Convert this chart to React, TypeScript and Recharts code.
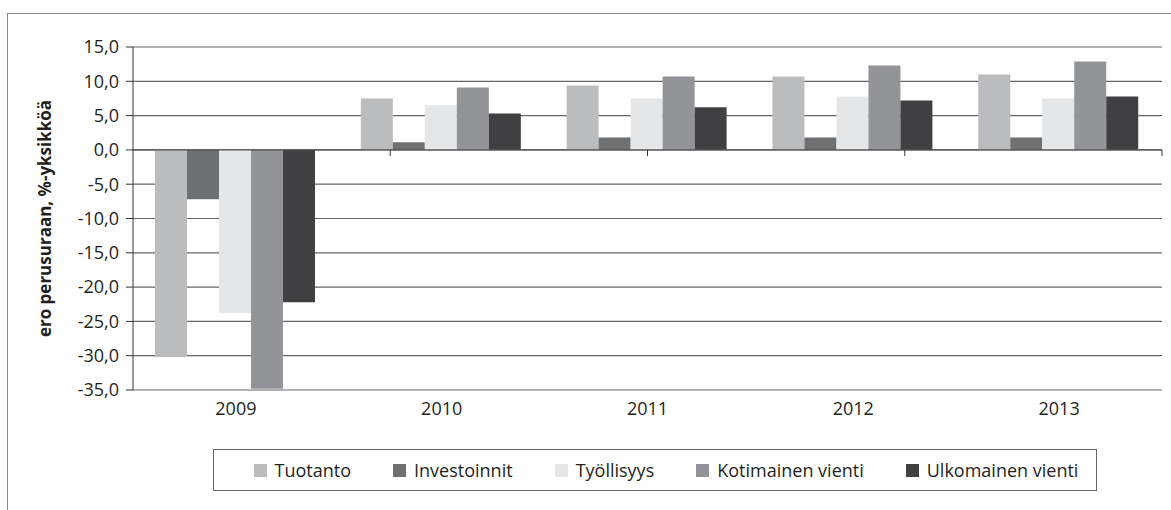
import React from "react";
import {
  Bar,
  BarChart,
  CartesianGrid,
  Legend,
  ReferenceArea,
  ReferenceLine,
  XAxis,
  YAxis,
} from "recharts";

const vuodet = ["2009", "2010", "2011", "2012", "2013"];
const tuotanto = [-30.2, 7.5, 9.4, 10.7, 11.0];
const investoinnit = [-7.2, 1.1, 1.8, 1.8, 1.8];
const tyollisyys = [-23.8, 6.5, 7.5, 7.8, 7.5];
const kotimainenVienti = [-34.8, 9.1, 10.7, 12.3, 12.9];
const ulkomainenVienti = [-22.2, 5.3, 6.2, 7.2, 7.8];
const yTicks = [-35, -30, -25, -20, -15, -10, -5, 0, 5, 10, 15];
const rajat = [1, 2, 3, 4];

const SARJAT = [
  { key: "tuotanto", nimi: "Tuotanto", cor: "#BBBCBE", arvot: tuotanto },
  { key: "investoinnit", nimi: "Investoinnit", cor: "#6E6F71", arvot: investoinnit },
  { key: "tyollisyys", nimi: "Työllisyys", cor: "#E5E6E8", arvot: tyollisyys },
  { key: "kotimainen", nimi: "Kotimainen vienti", cor: "#939497", arvot: kotimainenVienti },
  { key: "ulkomainen", nimi: "Ulkomainen vienti", cor: "#404042", arvot: ulkomainenVienti },
];

const data = vuodet.map((v, i) => {
  const row: Record<string, string | number> = { vuosi: v };
  SARJAT.forEach((s) => (row[s.key] = s.arvot[i]));
  return row;
});

const FONT = "'Open Sans', sans-serif";
const TEXT = "#231F20";
const fmt = (v: number) => v.toFixed(1).replace(".", ",");

// selite samassa järjestyksessä kuin sarjat (Recharts lajittelee muuten)
function Selite() {
  return (
    <div
      style={{
        display: "flex",
        justifyContent: "center",
        alignItems: "center",
        height: "100%",
        gap: 42,
        paddingLeft: 22,
        boxSizing: "border-box",
        fontFamily: FONT,
        fontSize: 18,
        color: TEXT,
      }}
    >
      {SARJAT.map((s) => (
        <span key={s.key} style={{ display: "flex", alignItems: "center" }}>
          <span
            style={{
              width: 13,
              height: 13,
              background: s.cor,
              marginRight: 8,
              display: "inline-block",
            }}
          />
          {s.nimi}
        </span>
      ))}
    </div>
  );
}

export default function App() {
  return (
    <div
      style={{
        position: "absolute",
        left: 0,
        top: 0,
        width: 1171,
        height: 510,
        overflow: "hidden",
        background: "#fff",
      }}
    >
      <div
        style={{
          position: "absolute",
          left: 7,
          top: 13,
          width: 1190,
          height: 520,
          border: "1px solid #8A8A8A",
          boxSizing: "border-box",
        }}
      />
      <div style={{ position: "absolute", left: 0, top: 0 }}>
        <BarChart
          width={1171}
          height={510}
          data={data}
          margin={{ top: 47, right: 9, left: 0, bottom: 90 }}
          barCategoryGap="10.7%"
          barGap={0}
        >
          <CartesianGrid vertical={false} stroke="#666" strokeWidth={1.2} />
          <XAxis
            dataKey="vuosi"
            axisLine={false}
            tickLine={false}
            tickSize={0}
            tickMargin={12}
            height={30}
            tick={{ fontFamily: FONT, fontSize: 18, fill: TEXT }}
          />
          <XAxis xAxisId="num" type="number" domain={[0, 5]} hide />
          <YAxis
            domain={[-35, 15]}
            ticks={yTicks}
            interval={0}
            width={133}
            tickFormatter={fmt}
            tickSize={7}
            tickMargin={7}
            axisLine={{ stroke: "#333" }}
            tickLine={{ stroke: "#333" }}
            tick={{ fontFamily: FONT, fontSize: 18, fill: TEXT }}
            label={{
              value: "ero perusuraan, %-yksikköä",
              angle: -90,
              position: "center",
              dx: -22,
              style: { fontFamily: FONT, fontSize: 17, fontWeight: 700, fill: TEXT },
            }}
          />
          <ReferenceLine y={0} stroke="#555" strokeWidth={1.2} />
          {rajat.map((r) => (
            <ReferenceLine
              key={r}
              xAxisId="num"
              segment={[
                { x: r, y: 0 },
                { x: r, y: -0.9 },
              ]}
              stroke="#333"
            />
          ))}
          {SARJAT.map((s) => (
            <Bar
              key={s.key}
              dataKey={s.key}
              name={s.nimi}
              fill={s.cor}
              isAnimationActive={false}
            />
          ))}
          <ReferenceArea
            xAxisId="num"
            x1={0}
            x2={5}
            y1={-35}
            y2={15}
            fill="none"
            stroke="#333"
            fillOpacity={0}
          />
          <Legend
            layout="horizontal"
            verticalAlign="middle"
            align="center"
            content={() => <Selite />}
            wrapperStyle={{
              left: 213,
              top: 449,
              width: 884,
              height: 42,
              border: "1px solid #666",
              boxSizing: "border-box",
              background: "#fff",
            }}
          />
        </BarChart>
      </div>
    </div>
  );
}
